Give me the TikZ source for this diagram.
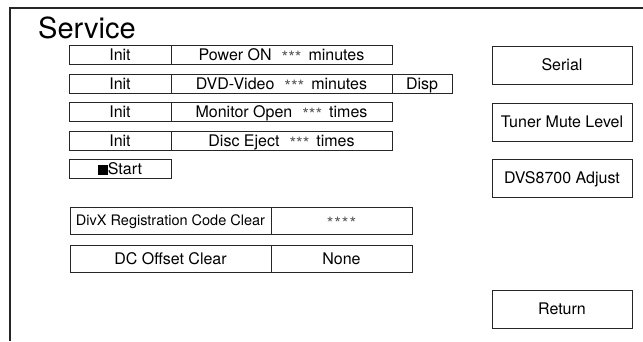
\documentclass[tikz,border=0pt]{standalone}
\usepackage{fontspec}
\setmainfont{TeX Gyre Heros}
\newcommand\mystars[1]{{\color{black!65}\fontsize{17}{17}\selectfont\raisebox{-3pt}{#1}}}
\begin{document}
\begin{tikzpicture}[x=1pt,y=-1pt,
  cell/.style={draw=black!85, line width=0.9pt, inner sep=0pt, minimum height=19pt,
    text height=11.5pt, text depth=0pt, text=black, font=\fontsize{16}{16}\selectfont},
  bigbtn/.style={cell, minimum width=140pt, minimum height=38pt},
  wide/.style={cell, minimum height=27pt},
  frame/.style={draw=black!85, line width=2pt}]
\useasboundingbox (0,0) rectangle (643,341);
\coordinate (tl) at (10,8);
\coordinate (tr) at (643,8);
\coordinate (bl) at (10,341);
\draw[frame] (tr) -- (tl) -- (bl);
\node[anchor=base west, inner sep=0pt, text=black, font=\fontsize{29}{29}\selectfont] (title) at (38,38) {Service};
% rows
\node[cell, minimum width=102pt] (i1) at (120,55) {Init};
\node[cell, minimum width=221pt] (m1) at (281.5,55) {Power ON\hspace{10pt}\mystars{***}\hspace{7pt}minutes};
\node[cell, minimum width=102pt] (i2) at (120,83.5) {Init};
\node[cell, minimum width=221pt] (m2) at (281.5,83.5) {DVD-Video\hspace{10pt}\mystars{***}\hspace{7pt}minutes};
\node[cell, minimum width=60pt] (d2) at (422,83.5) {Disp};
\node[cell, minimum width=102pt] (i3) at (120,112) {Init};
\node[cell, minimum width=221pt] (m3) at (281.5,112) {Monitor Open\hspace{10pt}\mystars{***}\hspace{7pt}times};
\node[cell, minimum width=102pt] (i4) at (120,140.5) {Init};
\node[cell, minimum width=221pt] (m4) at (281.5,140.5) {Disc Eject\hspace{10pt}\mystars{***}\hspace{7pt}times};
\node[cell, minimum width=102pt] (st) at (120,169) {\rule{10pt}{10pt}Start};
% wide rows
\node[wide, minimum width=201pt, font=\fontsize{14.5}{14.5}\selectfont, text height=10.5pt] (dx) at (170.5,220.5) {DivX Registration Code Clear};
\node[wide, minimum width=141pt] (dxv) at (341.5,220.5) {\mystars{*\hspace{1pt}*\hspace{1pt}*\hspace{1pt}*}};
\node[wide, minimum width=201pt] (dc) at (170.5,258.5) {DC Offset Clear};
\node[wide, minimum width=141pt] (dcv) at (341.5,258.5) {None};
% right buttons
\node[bigbtn] (serial) at (562,65) {Serial};
\node[bigbtn] (tuner) at (562,122) {Tuner Mute Level};
\node[bigbtn] (dvs) at (562,178) {DVS8700 Adjust};
\node[bigbtn] (ret) at (562,309) {Return};
\end{tikzpicture}
\end{document}
